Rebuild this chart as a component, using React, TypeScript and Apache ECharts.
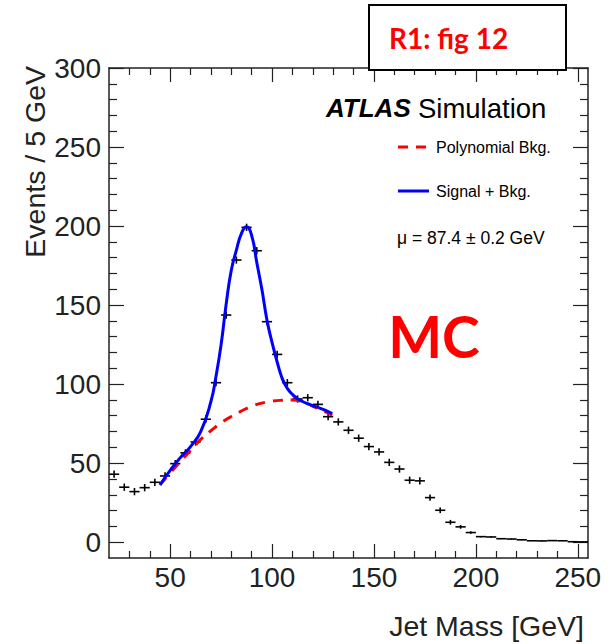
import React, { useEffect, useRef } from "react";
import * as echarts from "echarts";

// ---- data ----
const BIN_WIDTH = 5;
const BIN_CENTERS = [
  22.5, 27.5, 32.5, 37.5, 42.5, 47.5, 52.5, 57.5, 62.5, 67.5, 72.5, 77.5, 82.5, 87.5, 92.5, 97.5,
  102.5, 107.5, 112.5, 117.5, 122.5, 127.5, 132.5, 137.5, 142.5, 147.5, 152.5, 157.5, 162.5, 167.5,
  172.5, 177.5, 182.5, 187.5, 192.5, 197.5, 202.5, 207.5, 212.5, 217.5, 222.5, 227.5, 232.5, 237.5,
  242.5, 247.5, 252.5,
];
const EVENTS = [
  43, 34.8, 32.0, 34.5, 37.9, 41.9, 49.7, 56.5, 63.4, 77.8, 100.9, 143.7, 178.5, 199.2, 184.4, 139.5,
  118.8, 100.9, 90.6, 91.4, 87.2, 79.4, 76.1, 70.8, 65.8, 60.5, 57.1, 50.5, 46.3, 39.2,
  38.8, 28.2, 20.2, 12.6, 9.7, 6.1, 3.5, 3.3, 2.2, 2.0, 1.5, 0.9, 0.8, 1.0,
  0.9, 0.3, 0.2,
];
const ERRORS = [
  2.3, 2.3, 2.3, 2.3, 2.3, 2.3, 2.3, 2.3, 2.3, 2.3, 2.3, 2.3, 2.3, 2.3, 2.3, 2.3,
  2.3, 2.3, 2.3, 2.3, 2.3, 2.3, 2.3, 2.3, 2.3, 2.3, 2.3, 2.3, 2.3, 2.3,
  2.3, 2.0, 1.8, 1.5, 1.2, 0.8, 0.4, 0.4, 0.3, 0.3, 0.2, 0.2, 0.2, 0.2,
  0.2, 0.1, 0.1,
];

const BKG_X = [45, 50, 55, 60, 65, 70, 75, 80, 85, 90, 95, 100, 105, 110, 115, 120, 125, 129.5];
const BKG_Y = [36.3, 43.8, 51, 58, 65, 70.5, 75.5, 79.5, 83, 86, 88, 89.2, 89.8, 90, 88.8, 86, 83.2, 80.3];

const SIG_X = [
  45, 50, 55, 60, 65, 70, 72.5, 75, 77.5, 80, 82.5, 85, 87.5, 90, 92.5, 95, 97.5, 100, 102.5, 105,
  107.5, 110, 112.5, 115, 117.5, 120, 122.5, 125, 127.5, 129.5,
];
const SIG_Y = [
  36.2, 45.5, 53.5, 60.5, 70, 89, 105, 125, 150.8, 172, 184.8, 195.4, 199.5, 194, 177, 160, 140.5,
  126.3, 114, 103.5, 97.3, 93.5, 90.7, 89, 87.6, 86.4, 85.3, 84, 82.6, 81.3,
];

const X_MIN = 20;
const X_MAX = 255;
const Y_MIN = -10;
const Y_MAX = 300;
const X_MAJOR = [50, 100, 150, 200, 250];
const X_MINOR = [30, 40, 60, 70, 80, 90, 110, 120, 130, 140, 160, 170, 180, 190, 210, 220, 230, 240];
const Y_MAJOR = [0, 50, 100, 150, 200, 250, 300];
const Y_MINOR = [
  10, 20, 30, 40, 60, 70, 80, 90, 110, 120, 130, 140, 160, 170, 180, 190, 210, 220, 230, 240, 260,
  270, 280, 290,
];

const X_TITLE = "Jet Mass [GeV]";
const Y_TITLE = "Events / 5 GeV";
const BKG_NAME = "Polynomial Bkg.";
const SIG_NAME = "Signal + Bkg.";
const MU_TEXT = "\u03bc = 87.4 \u00b1 0.2 GeV";

const FONT = "'Liberation Sans', Arial, Helvetica, sans-serif";
const CAL = "Lato, 'Open Sans', sans-serif";
const AX = "#222";
const RED = "#ff0000";
const BLUE = "#0000ff";

function xAxisDef(position: "top" | "bottom", major: boolean, withLabels: boolean) {
  return {
    type: "value",
    min: X_MIN,
    max: X_MAX,
    position,
    axisLine: { show: major, onZero: false, lineStyle: { color: AX, width: 1.5 } },
    axisTick: {
      show: true,
      inside: true,
      length: major ? 14 : 7,
      customValues: major ? X_MAJOR : X_MINOR,
      lineStyle: { color: AX, width: 1.2 },
    },
    axisLabel: withLabels
      ? { show: true, customValues: X_MAJOR, fontSize: 28, color: AX, fontFamily: FONT, margin: 5 }
      : { show: false },
    splitLine: { show: false },
  };
}

function yAxisDef(position: "left" | "right", major: boolean, withLabels: boolean) {
  return {
    type: "value",
    min: Y_MIN,
    max: Y_MAX,
    position,
    axisLine: { show: major, onZero: false, lineStyle: { color: AX, width: 1.5 } },
    axisTick: {
      show: true,
      inside: true,
      length: major ? 15 : 8,
      customValues: major ? Y_MAJOR : Y_MINOR,
      lineStyle: { color: AX, width: 1.2 },
    },
    axisLabel: withLabels
      ? { show: true, customValues: Y_MAJOR, fontSize: 28, color: AX, fontFamily: FONT, margin: 8 }
      : { show: false },
    splitLine: { show: false },
  };
}

export default function App() {
  const ref = useRef<HTMLDivElement>(null);
  useEffect(() => {
    if (!ref.current) return;
    const chart = echarts.init(ref.current, undefined, { renderer: "svg" });
    const points = BIN_CENTERS.map((x, i) => [x, EVENTS[i], ERRORS[i]]);
    const option = {
      animation: false,
      backgroundColor: "#fff",
      grid: { left: 109, top: 68, width: 479, height: 490, containLabel: false },
      xAxis: [
        xAxisDef("bottom", true, true),
        xAxisDef("bottom", false, false),
        xAxisDef("top", true, false),
        xAxisDef("top", false, false),
      ],
      yAxis: [
        yAxisDef("left", true, true),
        yAxisDef("left", false, false),
        yAxisDef("right", true, false),
        yAxisDef("right", false, false),
      ],
      series: [
        {
          type: "custom",
          name: "MC",
          xAxisIndex: 0,
          yAxisIndex: 0,
          data: points,
          renderItem: (params: any, api: any) => {
            const x = api.value(0);
            const y = api.value(1);
            const e = api.value(2);
            const a = api.coord([x - BIN_WIDTH / 2, y]);
            const b = api.coord([x + BIN_WIDTH / 2, y]);
            const c = api.coord([x, y - e]);
            const d = api.coord([x, y + e]);
            return {
              type: "group",
              children: [
                {
                  type: "line",
                  shape: { x1: a[0], y1: a[1], x2: b[0], y2: b[1] },
                  style: { stroke: "#000", lineWidth: 1.6 },
                },
                {
                  type: "line",
                  shape: { x1: c[0], y1: c[1], x2: d[0], y2: d[1] },
                  style: { stroke: "#000", lineWidth: 1.6 },
                },
              ],
            };
          },
          z: 2,
        },
        {
          type: "line",
          name: BKG_NAME,
          xAxisIndex: 0,
          yAxisIndex: 0,
          data: BKG_X.map((x, i) => [x, BKG_Y[i]]),
          smooth: true,
          symbol: "none",
          lineStyle: { color: RED, width: 3, type: [10, 8] },
          itemStyle: { color: RED },
          z: 3,
        },
        {
          type: "line",
          name: SIG_NAME,
          xAxisIndex: 0,
          yAxisIndex: 0,
          data: SIG_X.map((x, i) => [x, SIG_Y[i]]),
          smooth: true,
          symbol: "none",
          lineStyle: { color: BLUE, width: 3 },
          itemStyle: { color: BLUE },
          z: 4,
        },
      ],
      graphic: [
        {
          type: "text",
          x: 35,
          y: 66,
          rotation: Math.PI / 2,
          z: 100,
          style: {
            text: Y_TITLE,
            align: "right",
            verticalAlign: "middle",
            fontSize: 28.5,
            fontFamily: FONT,
            fill: AX,
          },
        },
        {
          type: "text",
          x: 584,
          y: 626,
          z: 100,
          style: {
            text: X_TITLE,
            align: "right",
            verticalAlign: "middle",
            fontSize: 28.5,
            fontFamily: FONT,
            fill: AX,
          },
        },
        {
          type: "text",
          x: 326,
          y: 108,
          z: 100,
          style: {
            text: "{a|ATLAS} {b|Simulation}",
            verticalAlign: "middle",
            fontSize: 26,
            fontFamily: FONT,
            fill: "#000",
            rich: {
              a: { fontSize: 26, fontWeight: "bold", fontStyle: "italic", fontFamily: FONT, fill: "#000" },
              b: { fontSize: 27.5, fontFamily: FONT, fill: "#000" },
            },
          },
        },
        // legend
        {
          type: "line",
          z: 100,
          shape: { x1: 398, y1: 147, x2: 428, y2: 147 },
          style: { stroke: RED, lineWidth: 3, lineDash: [10, 8] },
        },
        {
          type: "text",
          x: 436,
          y: 147,
          z: 100,
          style: { text: BKG_NAME, verticalAlign: "middle", fontSize: 16, fontFamily: FONT, fill: "#000" },
        },
        {
          type: "line",
          z: 100,
          shape: { x1: 398, y1: 191, x2: 429, y2: 191 },
          style: { stroke: BLUE, lineWidth: 3 },
        },
        {
          type: "text",
          x: 436,
          y: 191,
          z: 100,
          style: { text: SIG_NAME, verticalAlign: "middle", fontSize: 16, fontFamily: FONT, fill: "#000" },
        },
        {
          type: "text",
          x: 397,
          y: 238,
          z: 100,
          style: {
            text: MU_TEXT,
            verticalAlign: "middle",
            fontSize: 17.5,
            fontFamily: FONT,
            fill: "#000",
          },
        },
        {
          type: "rect",
          z: 100,
          shape: { x: 369, y: 5, width: 197, height: 65 },
          style: { fill: "#fff", stroke: "#000", lineWidth: 2 },
        },
        {
          type: "text",
          x: 389,
          y: 38,
          z: 101,
          style: {
            text: "R1: fig 12",
            verticalAlign: "middle",
            fontSize: 28,
            fontWeight: "bold",
            fontFamily: CAL,
            fill: RED,
          },
        },
        {
          type: "text",
          x: 434,
          y: 336,
          z: 100,
          style: {
            text: "MC",
            align: "center",
            verticalAlign: "middle",
            fontSize: 57,
            fontWeight: "bold",
            fontFamily: CAL,
            fill: RED,
          },
        },
      ],
    };
    chart.setOption(option as any);
    return () => chart.dispose();
  }, []);
  return (
    <div
      ref={ref}
      style={{ position: "absolute", left: 0, top: 0, width: 615, height: 644, background: "#fff" }}
    />
  );
}
